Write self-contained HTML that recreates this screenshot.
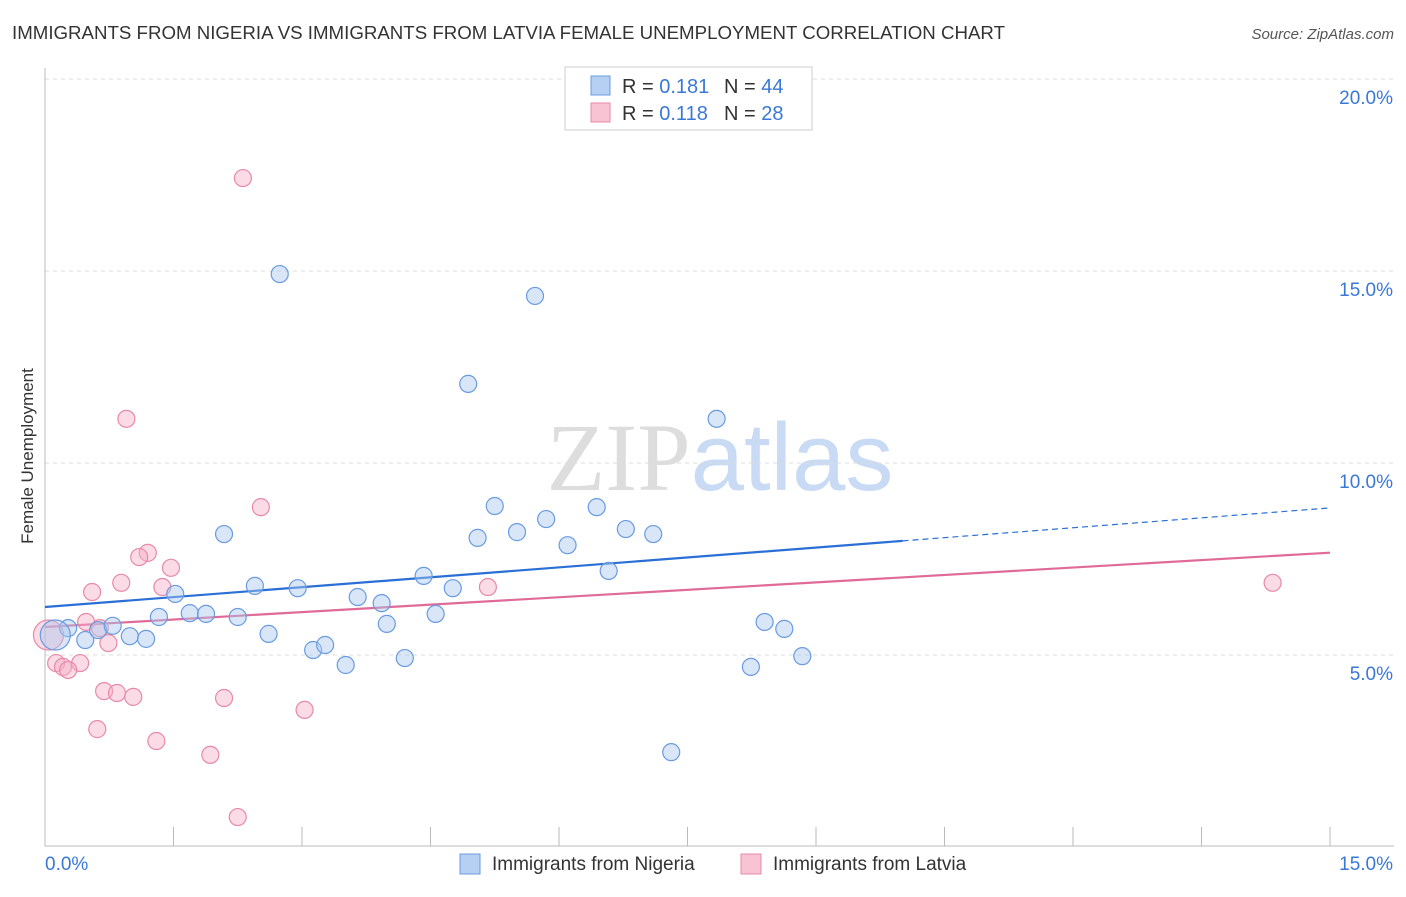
<!DOCTYPE html>
<html><head><meta charset="utf-8"><style>
body{margin:0;background:#fff;font-family:"Liberation Sans",sans-serif;}
svg text{font-family:"Liberation Sans",sans-serif;}
</style></head><body>
<svg id="c" width="1406" height="892" xmlns="http://www.w3.org/2000/svg">
<text x="12" y="39" font-size="18" fill="#333" textLength="993" lengthAdjust="spacingAndGlyphs">IMMIGRANTS FROM NIGERIA VS IMMIGRANTS FROM LATVIA FEMALE UNEMPLOYMENT CORRELATION CHART</text>
<text x="1394" y="39" font-size="15" fill="#555" text-anchor="end" font-style="italic">Source: ZipAtlas.com</text>
<text transform="translate(33,456) rotate(-90)" font-size="17" fill="#333" text-anchor="middle">Female Unemployment</text>
<text x="720" y="490" font-size="96" text-anchor="middle"><tspan fill="#ddd" font-family="Liberation Serif">ZIP</tspan><tspan fill="#c8daf4">atlas</tspan></text>
<g id="grid"></g><g id="axes"></g><g id="trends"></g><g id="pts"></g>
<g>
<rect x="565" y="67" width="247" height="63" fill="#fff" stroke="#ccc"/>
<rect x="591" y="76" width="19" height="19" fill="#b5d0f2" stroke="#6a9be0"/>
<text x="622" y="93" font-size="20" fill="#333">R = <tspan fill="#3a78d8">0.181</tspan></text>
<text x="724" y="93" font-size="20" fill="#333">N = <tspan fill="#3a78d8">44</tspan></text>
<rect x="591" y="103" width="19" height="19" fill="#f8c4d4" stroke="#e88aa8"/>
<text x="622" y="120" font-size="20" fill="#333">R = <tspan fill="#3a78d8">0.118</tspan></text>
<text x="724" y="120" font-size="20" fill="#333">N = <tspan fill="#3a78d8">28</tspan></text>
</g>
<g>
<rect x="460" y="854" width="20" height="20" fill="#b5d0f2" stroke="#6a9be0"/>
<text x="492" y="870" font-size="19" fill="#333">Immigrants from Nigeria</text>
<rect x="741" y="854" width="20" height="20" fill="#f8c4d4" stroke="#e88aa8"/>
<text x="773" y="870" font-size="19" fill="#333">Immigrants from Latvia</text>
</g>
</svg>
<script>
const yTicks=[5,10,15,20];
const yTickLabels=["5.0%","10.0%","15.0%","20.0%"];
const xTicks=[0,1.5,3,4.5,6,7.5,9,10.5,12,13.5,15];
const blueX=[0.27,0.47,0.62,0.79,0.99,1.18,1.33,1.52,1.69,1.88,2.09,2.25,2.45,2.61,2.74,2.95,3.13,3.27,3.51,3.65,3.93,3.99,4.20,4.42,4.56,4.76,4.94,5.05,5.25,5.51,5.72,5.85,6.10,6.44,6.58,6.78,7.10,7.31,7.84,8.24,8.40,8.63,8.84,0.12];
const blueY=[5.70,5.39,5.65,5.76,5.49,5.42,5.99,6.59,6.09,6.07,8.15,5.99,6.80,5.55,14.92,6.74,5.13,5.26,4.74,6.51,6.35,5.81,4.92,7.06,6.07,6.74,12.06,8.05,8.88,8.20,14.35,8.54,7.86,8.85,7.19,8.28,8.15,2.47,11.15,4.69,5.86,5.68,4.97,5.52];
const pinkX=[2.31,0.95,2.52,1.20,1.10,1.47,0.89,0.55,1.37,5.17,0.48,0.64,0.74,0.41,0.13,0.21,0.27,0.69,0.84,1.03,2.09,3.03,0.61,1.30,1.93,2.25,14.33,0.04];
const pinkY=[17.42,11.15,8.85,7.66,7.55,7.27,6.88,6.64,6.77,6.77,5.86,5.70,5.31,4.79,4.79,4.69,4.61,4.06,4.01,3.91,3.88,3.57,3.07,2.76,2.40,0.78,6.88,5.52];
const blueTrend=[6.25,0.172];
const pinkTrend=[5.73,0.129];
const X=v=>45+v*1285/15, Y=v=>847-v*38.4;
const NS="http://www.w3.org/2000/svg";
function mk(p,t,a){const e=document.createElementNS(NS,t);for(const k in a)e.setAttribute(k,a[k]);document.getElementById(p).appendChild(e);return e;}
yTicks.forEach((t,i)=>{
 const l=mk('grid','line',{x1:45,x2:1394,y1:Y(t),y2:Y(t),stroke:'#ddd','stroke-dasharray':'4,4'});
 
 
 const tx=mk('grid','text',{x:1393,y:Y(t)+25,'font-size':19,fill:'#3a78d8','text-anchor':'end'});
 tx.textContent=yTickLabels[i];
 
 
});
mk('axes','line',{x1:45,x2:45,y1:68,y2:846,stroke:'#bbb'});
mk('axes','line',{x1:45,x2:1394,y1:846,y2:846,stroke:'#bbb'});
xTicks.forEach(t=>{const l=mk('axes','line',{x1:X(t),x2:X(t),y1:827,y2:846,stroke:'#bbb'});
 
 });
{const a=mk('axes','text',{x:45,y:870,'font-size':19,fill:'#3a78d8'});a.textContent='0.0%';
 
 
 const b=mk('axes','text',{x:1393,y:870,'font-size':19,fill:'#3a78d8','text-anchor':'end'});b.textContent='15.0%';
 
 }
function trend(tr,col,solidTo,name){
 const l1=mk('trends','line',{x1:X(0),y1:Y(tr[0]),x2:X(solidTo),y2:Y(tr[0]+tr[1]*solidTo),stroke:col,'stroke-width':2.2});
 
 
 if(solidTo<15){mk('trends','line',{x1:X(solidTo),y1:Y(tr[0]+tr[1]*solidTo),x2:X(15),y2:Y(tr[0]+tr[1]*15),stroke:col,'stroke-width':1.2,'stroke-dasharray':'6,4'});}
}
trend(blueTrend,'#2a6fd6',10.01,'nigeria-trend-line');
trend(pinkTrend,'#e06a98',15,'latvia-trend-line');
function pts(xs,ys,f,s,name){xs.forEach((x,i)=>{const big=i==xs.length-1;
 const c=mk('pts','circle',{cx:X(x),cy:Y(ys[i]),r:big?15:8.5,fill:f,'fill-opacity':0.45,stroke:s,'stroke-width':1.2});
 
 });}
pts(pinkX,pinkY,'#f5b0c8','#e88aa8','latvia-point');
pts(blueX,blueY,'#a8c8f0','#6a9be0','nigeria-point');
</script>
</body></html>
